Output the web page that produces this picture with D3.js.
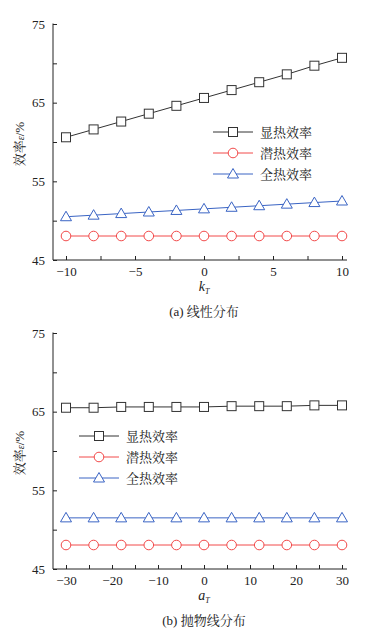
<!DOCTYPE html>
<html>
<head>
<meta charset="utf-8">
<script src="https://cdn.jsdelivr.net/npm/d3@7"></script>
<style>
  body { margin: 0; background: #fff; }
  .tick text { font-family: "Liberation Serif" !important; }
</style>
</head>
<body>
<div id="d3-container"></div>
<script>
// panel (a): linear distribution
const kT = [-10, -8, -6, -4, -2, 0, 2, 4, 6, 8, 10];
const sensibleA = [60.6, 61.6, 62.6, 63.6, 64.6, 65.6, 66.6, 67.6, 68.6, 69.7, 70.7];
const latentA = [48.05, 48.05, 48.05, 48.05, 48.05, 48.05, 48.05, 48.05, 48.05, 48.05, 48.05];
const totalA = [50.5, 50.7, 50.9, 51.1, 51.3, 51.5, 51.7, 51.9, 52.1, 52.3, 52.5];

// panel (b): parabolic distribution
const aT = [-30, -24, -18, -12, -6, 0, 6, 12, 18, 24, 30];
const sensibleB = [65.5, 65.5, 65.6, 65.6, 65.6, 65.6, 65.7, 65.7, 65.7, 65.8, 65.8];
const latentB = [48.05, 48.05, 48.05, 48.05, 48.05, 48.05, 48.05, 48.05, 48.05, 48.05, 48.05];
const totalB = [51.5, 51.5, 51.5, 51.5, 51.5, 51.5, 51.5, 51.5, 51.5, 51.5, 51.5];

const yTicks = [45, 55, 65, 75];
const seriesNames = ["显热效率", "潜热效率", "全热效率"];
const seriesColors = ["#333333", "#f24a4a", "#3a64c4"];
const seriesShapes = ["square", "circle", "triangle"];

const serif = '"Liberation Serif"';
const cnFont = '"Noto Serif CJK SC"';

const width = 387;
const height = 636;

const svg = d3.select('#d3-container')
  .append('svg')
  .attr('width', width)
  .attr('height', height)
  .attr("viewBox", [0, 0, width, height]);

function marker(g, shape, color) {
  if (shape === "square") {
    g.append("rect").attr("x", -4.5).attr("y", -4.5).attr("width", 9).attr("height", 9)
      .attr("fill", "#fff").attr("stroke", color).attr("stroke-width", 1);
  } else if (shape === "circle") {
    g.append("circle").attr("r", 4.8)
      .attr("fill", "#fff").attr("stroke", color).attr("stroke-width", 1);
  } else {
    g.append("path").attr("d", "M0,-5.5L5.5,4L-5.5,4Z")
      .attr("fill", "#fff").attr("stroke", color).attr("stroke-width", 1);
  }
}

function panel(opt) {
  const x = d3.scaleLinear().domain(opt.xDomain).range([66, 342]);
  const y = d3.scaleLinear().domain([45, 75]).range([opt.bottom, opt.top]);
  const g = svg.append("g");

  // axes
  g.append("g")
    .attr("transform", `translate(53,0)`)
    .call(d3.axisLeft(y).tickValues(yTicks).tickSize(-4).tickPadding(8))
    .call(a => a.select(".domain").attr("d", `M0,${opt.bottom}V${opt.top - 0.5}`))
    .call(a => a.selectAll("text").attr("font-size", "13px").attr("fill", "#222"));
  g.append("g")
    .attr("transform", `translate(53,0)`)
    .call(d3.axisLeft(y).tickValues([50, 60, 70]).tickSize(-4).tickFormat(""))
    .call(a => a.select(".domain").remove());

  g.append("g")
    .attr("transform", `translate(0,${opt.bottom})`)
    .call(d3.axisBottom(x).tickValues(opt.xTicks).tickSize(-4).tickPadding(7)
      .tickFormat(d => d < 0 ? "\u2212" + Math.abs(d) : d))
    .call(a => a.select(".domain").attr("d", `M53,0H347`))
    .call(a => a.selectAll("text").attr("font-size", "13px").attr("fill", "#222"));
  g.append("g")
    .attr("transform", `translate(0,${opt.bottom})`)
    .call(d3.axisBottom(x).tickValues(opt.xMinor).tickSize(-4).tickFormat(""))
    .call(a => a.select(".domain").remove());

  g.selectAll("g").attr("font-family", "Liberation Serif");
  g.selectAll(".tick line").attr("stroke", "#222");
  g.selectAll(".domain").attr("stroke", "#222");

  // series
  const line = d3.line().x(d => x(d[0])).y(d => y(d[1]));
  opt.series.forEach((vals, i) => {
    const pts = opt.xs.map((v, j) => [v, vals[j]]);
    g.append("path").datum(pts).attr("d", line)
      .attr("fill", "none").attr("stroke", seriesColors[i]).attr("stroke-width", 1);
    pts.forEach(p => {
      const m = g.append("g").attr("transform", `translate(${x(p[0])},${y(p[1])})`);
      marker(m, seriesShapes[i], seriesColors[i]);
    });
  });

  // legend
  seriesNames.forEach((name, i) => {
    const ly = opt.legend.y + i * opt.legend.dy;
    const lg = g.append("g").attr("transform", `translate(${opt.legend.x},${ly})`);
    lg.append("line").attr("x1", 0).attr("x2", 40).attr("y1", 0).attr("y2", 0)
      .attr("stroke", seriesColors[i]).attr("stroke-width", 1);
    const m = lg.append("g").attr("transform", "translate(20,0)");
    marker(m, seriesShapes[i], seriesColors[i]);
    lg.append("text").style("font-family", cnFont).attr("x", 47).attr("y", 5)
      .attr("font-size", "13px").attr("fill", "#222").text(name);
  });

  // y label
  const yl = g.append("text")
    .attr("transform", `translate(24,${(opt.top + opt.bottom) / 2 + 2}) rotate(-90)`)
    .attr("text-anchor", "middle").attr("font-size", "13px").attr("fill", "#222")
    .style("font-family", serif);
  yl.append("tspan").style("font-family", cnFont).text("效率");
  yl.append("tspan").attr("font-style", "italic").attr("font-size", "10px").text("ε");
  yl.append("tspan").attr("font-size", "13px").text("/%");

  // x label
  const xl = g.append("text").attr("x", 204).attr("y", opt.bottom + 31)
    .attr("text-anchor", "middle").attr("font-size", "14px").attr("fill", "#222")
    .attr("font-style", "italic").style("font-family", serif);
  xl.append("tspan").text(opt.xLabel);
  xl.append("tspan").attr("font-size", "8px").attr("dy", 3).text("T");

  // caption
  const cap = g.append("text").attr("x", 204).attr("y", opt.bottom + 56)
    .attr("text-anchor", "middle").attr("font-size", "13px").attr("fill", "#222")
    .style("font-family", serif);
  cap.append("tspan").text(opt.caption[0] + " ");
  cap.append("tspan").style("font-family", cnFont).text(opt.caption[1]);
}

panel({
  xs: kT, series: [sensibleA, latentA, totalA],
  xDomain: [-10, 10], xTicks: [-10, -5, 0, 5, 10], xMinor: [-7.5, -2.5, 2.5, 7.5],
  top: 24, bottom: 260, xLabel: "k", caption: ["(a)", "线性分布"],
  legend: { x: 213, y: 132, dy: 21 }
});

panel({
  xs: aT, series: [sensibleB, latentB, totalB],
  xDomain: [-30, 30], xTicks: [-30, -20, -10, 0, 10, 20, 30], xMinor: [-25, -15, -5, 5, 15, 25],
  top: 333, bottom: 569, xLabel: "a", caption: ["(b)", "抛物线分布"],
  legend: { x: 79, y: 436, dy: 21 }
});
</script>
</body>
</html>
